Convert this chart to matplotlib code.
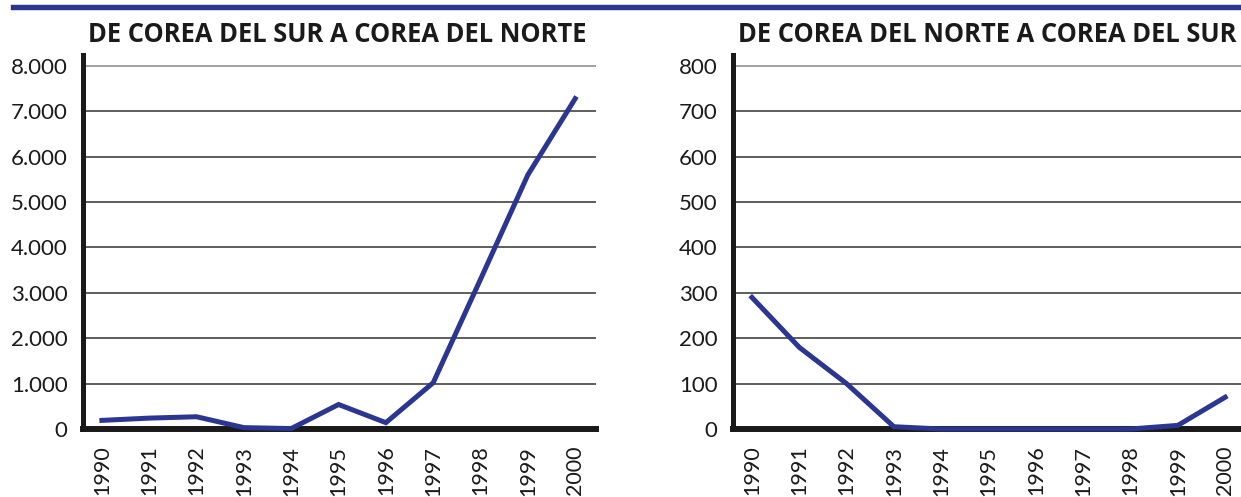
import matplotlib
matplotlib.use("Agg")
import matplotlib.pyplot as plt
from matplotlib.ticker import FuncFormatter

years = [1990, 1991, 1992, 1993, 1994, 1995, 1996, 1997, 1998, 1999, 2000]
sur_a_norte = [190, 240, 270, 30, 10, 540, 140, 1020, 3300, 5600, 7280]
norte_a_sur = [290, 180, 100, 5, 0, 0, 0, 0, 0, 8, 70]

titles = ["DE COREA DEL SUR A COREA DEL NORTE", "DE COREA DEL NORTE A COREA DEL SUR"]
ytick_sets = [list(range(0, 8001, 1000)), list(range(0, 801, 100))]

NAVY = "#2b3592"
plt.rcParams["font.family"] = ["Lato", "DejaVu Sans"]

W, H = 1241, 497
fig = plt.figure(figsize=(W / 100, H / 100), dpi=100)

# franja azul superior
fig.add_artist(plt.Line2D([13 / W, 1.0], [1 - 7.4 / H, 1 - 7.4 / H], color=NAVY, lw=3.9))


def thousands(v, pos):
    return f"{int(v):,}".replace(",", ".")


title_texts = []
for i, (vals, title, yt) in enumerate(zip([sur_a_norte, norte_a_sur], titles, ytick_sets)):
    left_px = [83, 733][i]
    ax = fig.add_axes([left_px / W, 68 / H, 513 / W, 374 / H])
    ymax = yt[-1]
    ax.set_ylim(0, ymax * 1.0303)
    ax.set_xlim(1989.6, 2000.44)
    ax.plot(years, vals, color=NAVY, lw=3.6, solid_joinstyle="miter", zorder=3, clip_on=False)
    ax.set_yticks(yt)
    ax.yaxis.set_major_formatter(FuncFormatter(thousands))
    ax.set_xticks(years)
    ax.set_xticklabels([str(y) for y in years], rotation=90, va="top", fontsize=15.5)
    for y in yt[1:]:
        ax.axhline(y, color="#333333" if y != ymax else "#888888", lw=1.1, zorder=1)
    for s in ["top", "right"]:
        ax.spines[s].set_visible(False)
    ax.spines["left"].set_linewidth(3.6)
    ax.spines["bottom"].set_linewidth(4.3)
    ax.spines["left"].set_color("#1a1a1a")
    ax.spines["bottom"].set_color("#1a1a1a")
    ax.tick_params(axis="y", length=0, labelsize=16, colors="#1a1a1a", pad=11)
    ax.tick_params(axis="x", length=0, colors="#1a1a1a", pad=12)
    t = ax.text(5 / 513, 1 + 21 / 374, title, transform=ax.transAxes, ha="left", va="center",
                fontsize=15, fontweight="bold", color="#1a1a1a", family=["Open Sans", "DejaVu Sans"])
    title_texts.append(t)

# ajustar ancho del título al original
fig.canvas.draw()
renderer = fig.canvas.get_renderer()
w0 = title_texts[0].get_window_extent(renderer).width
size = 15 * 500 / w0
for t in title_texts:
    t.set_fontsize(size)

fig.savefig("out.png", dpi=100)
